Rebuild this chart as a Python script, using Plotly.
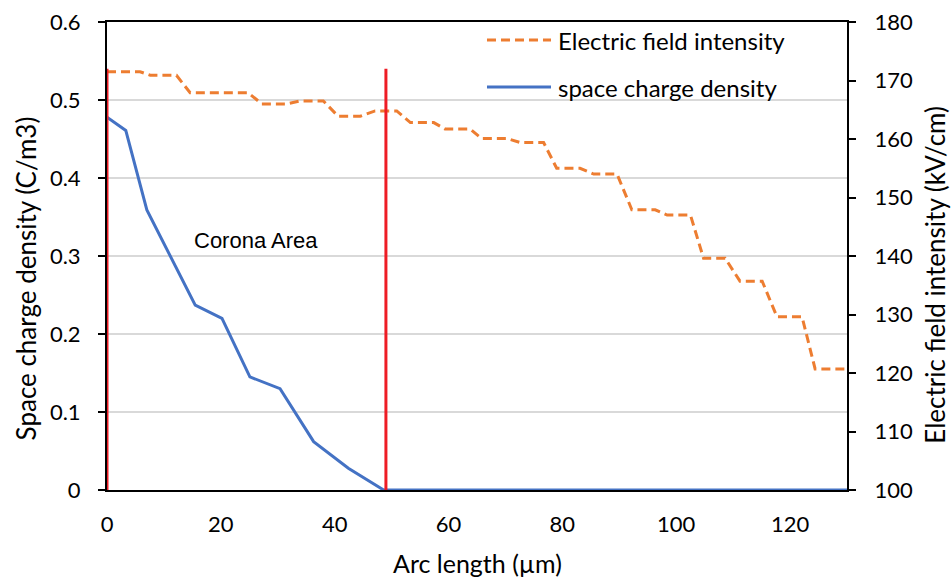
import plotly.graph_objects as go

# Space charge density along the arc (left axis, C/m3)
charge_x = [0, 3.3, 7.0, 15.5, 20.2, 25.1, 30.4, 36.3, 42.4, 48.6, 130]
charge_y = [0.478, 0.461, 0.359, 0.237, 0.220, 0.145, 0.130, 0.062, 0.028, 0.0, 0.0]

# Electric field intensity along the arc (right axis, kV/cm)
field_x = [0, 5.8, 7.6, 12.2, 14.6, 24.8, 27.2, 31.6, 33.9, 38.0, 40.6, 44.5,
           47.1, 50.9, 53.3, 57.4, 59.4, 63.8, 65.8, 70.2, 72.6, 76.7, 79.0,
           83.1, 85.5, 89.6, 92.2, 96.3, 98.4, 102.5, 104.8, 108.6, 111.2,
           115.1, 117.7, 122.1, 124.4, 130]
field_y = [171.5, 171.5, 170.9, 170.9, 167.9, 167.9, 166.0, 166.0, 166.5, 166.5,
           163.9, 163.9, 164.8, 164.8, 162.8, 162.8, 161.7, 161.7, 160.1, 160.1,
           159.4, 159.4, 155.0, 155.0, 154.0, 154.0, 147.9, 147.9, 147.0, 147.0,
           139.6, 139.6, 135.7, 135.7, 129.6, 129.6, 120.7, 120.7]

# Corona area boundaries
boundary_x = [0, 49]
boundary_top = 0.54

x_ticks = [0, 20, 40, 60, 80, 100, 120]
left_ticks = [0, 0.1, 0.2, 0.3, 0.4, 0.5, 0.6]
left_ticktext = ["0", "0.1", "0.2", "0.3", "0.4", "0.5", "0.6"]
right_ticks = [100, 110, 120, 130, 140, 150, 160, 170, 180]

BLUE = "#4472C4"
ORANGE = "#ED7D31"
RED = "#EE1C25"
FONT = "Lato"
DASH = "9px,5px"

fig = go.Figure()

fig.add_trace(go.Scatter(
    x=field_x, y=field_y, yaxis="y2", mode="lines",
    name="Electric field intensity",
    line=dict(color=ORANGE, width=3, dash=DASH),
    showlegend=False,
))
fig.add_trace(go.Scatter(
    x=charge_x, y=charge_y, mode="lines",
    name="space charge density",
    line=dict(color=BLUE, width=3),
    showlegend=False,
))

for bx in boundary_x:
    fig.add_shape(type="line", xref="x", yref="y",
                  x0=bx, x1=bx, y0=0, y1=boundary_top,
                  line=dict(color=RED, width=3), layer="above")

# Legend drawn as sample lines and labels in the upper right
legend_items = [("Electric field intensity", ORANGE, DASH, 0.9615),
                ("space charge density", BLUE, "solid", 0.861)]
for label, color, dash, ly in legend_items:
    fig.add_shape(type="line", xref="paper", yref="paper",
                  x0=0.5135, x1=0.6, y0=ly, y1=ly,
                  line=dict(color=color, width=3, dash=dash))
    fig.add_annotation(xref="paper", yref="paper", x=0.607, y=ly,
                       text=label, showarrow=False, xanchor="left",
                       yanchor="middle",
                       font=dict(family=FONT, size=24, color="#000000"))

fig.add_annotation(x=26.2, y=0.32, text="Corona Area", showarrow=False,
                   xanchor="center", yanchor="middle",
                   font=dict(family="Liberation Sans", size=22, color="#000000"))

# Axis titles
title_font = dict(family=FONT, size=26, color="#000000")
fig.add_annotation(xref="paper", yref="paper", x=0.5, y=-0.157,
                   text="Arc length (µm)", showarrow=False,
                   xanchor="center", yanchor="middle",
                   font=dict(family=FONT, size=25, color="#000000"))
fig.add_annotation(xref="paper", yref="paper", x=-0.1095, y=0.452,
                   text="Space charge density (C/m3)", showarrow=False,
                   textangle=-90, xanchor="center", yanchor="middle",
                   font=title_font)
fig.add_annotation(xref="paper", yref="paper", x=1.1189, y=0.46,
                   text="Electric field intensity (kV/cm)", showarrow=False,
                   textangle=-90, xanchor="center", yanchor="middle",
                   font=title_font)

fig.update_layout(
    width=951, height=577,
    margin=dict(l=107, r=104, t=22, b=87, autoexpand=False),
    paper_bgcolor="white", plot_bgcolor="white",
    font=dict(family=FONT, size=22, color="#000000"),
    xaxis=dict(
        range=[0, 130], tickvals=x_ticks, ticks="", showgrid=False,
        showline=True, linecolor="#000000", linewidth=2, mirror=True,
        zeroline=False, layer="below traces", ticklabelstandoff=14,
        automargin=False,
    ),
    yaxis=dict(
        range=[0, 0.6], tickvals=left_ticks, ticktext=left_ticktext,
        ticks="outside", ticklen=7, tickwidth=2, tickcolor="#000000",
        showline=True, linecolor="#000000", linewidth=2,
        showgrid=True, gridcolor="#D9D9D9", gridwidth=2,
        zeroline=False, layer="below traces", ticklabelstandoff=13,
        automargin=False,
    ),
    yaxis2=dict(
        range=[100, 180], tickvals=right_ticks, overlaying="y", side="right",
        ticks="outside", ticklen=7, tickwidth=2, tickcolor="#000000",
        showline=True, linecolor="#000000", linewidth=2,
        showgrid=False, zeroline=False, layer="below traces",
        ticklabelstandoff=14, automargin=False,
    ),
)

fig.write_html("out.html")
